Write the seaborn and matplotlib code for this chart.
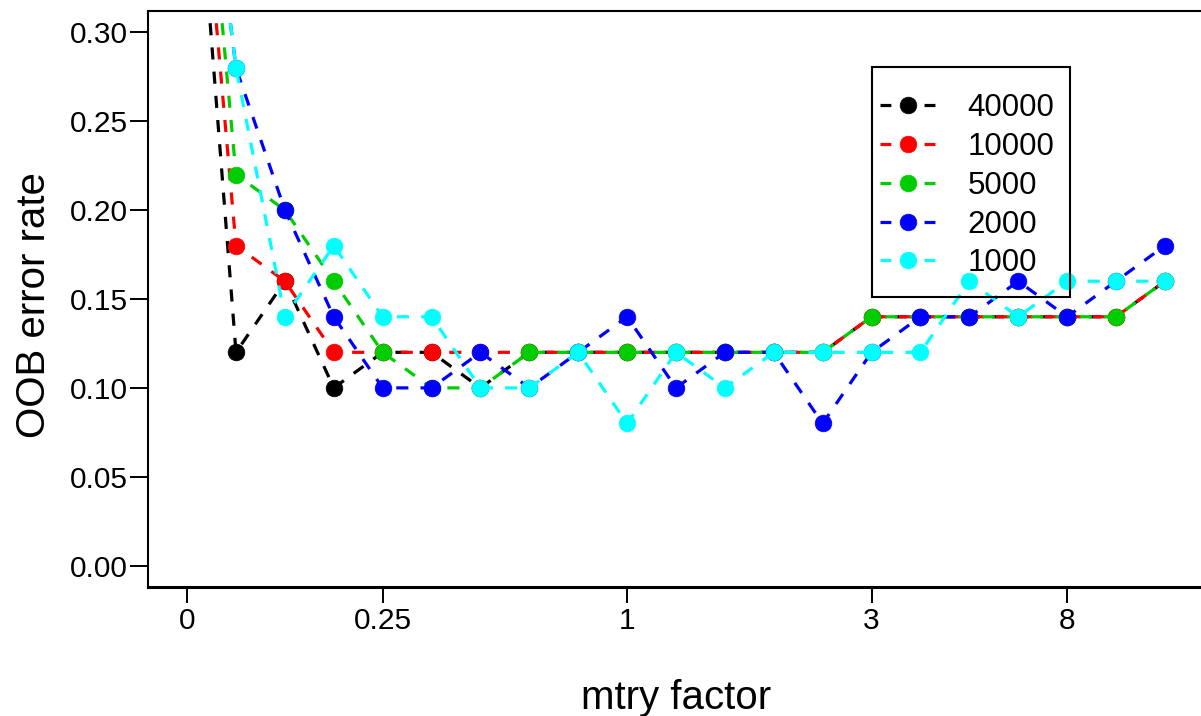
import pandas as pd
import matplotlib
matplotlib.use("Agg")
import matplotlib.pyplot as plt
from matplotlib.patches import Rectangle
import seaborn as sns

# OOB error rate per mtry step, one list per ntree setting
mtry_labels = ["0", "0.25", "1", "3", "8"]
mtry_label_pos = [0, 4, 9, 14, 18]
step = list(range(21))

ntree = ["40000", "10000", "5000", "2000", "1000"]
err_40000 = [0.47, 0.12, 0.16, 0.10, 0.12, 0.12, 0.10, 0.12, 0.12, 0.12, 0.12,
             0.12, 0.12, 0.12, 0.14, 0.14, 0.14, 0.14, 0.14, 0.14, 0.16]
err_10000 = [0.49, 0.18, 0.16, 0.12, 0.12, 0.12, 0.12, 0.12, 0.12, 0.12, 0.12,
             0.12, 0.12, 0.12, 0.14, 0.14, 0.14, 0.14, 0.14, 0.14, 0.16]
err_5000 = [0.52, 0.22, 0.20, 0.16, 0.12, 0.10, 0.10, 0.12, 0.12, 0.12, 0.12,
            0.12, 0.12, 0.12, 0.14, 0.14, 0.14, 0.14, 0.14, 0.14, 0.16]
err_2000 = [0.50, 0.28, 0.20, 0.14, 0.10, 0.10, 0.12, 0.10, 0.12, 0.14, 0.10,
            0.12, 0.12, 0.08, 0.12, 0.14, 0.14, 0.16, 0.14, 0.16, 0.18]
err_1000 = [0.50, 0.28, 0.14, 0.18, 0.14, 0.14, 0.10, 0.10, 0.12, 0.08, 0.12,
            0.10, 0.12, 0.12, 0.12, 0.12, 0.16, 0.14, 0.16, 0.16, 0.16]
colors = ["#000000", "#FF0000", "#00CD00", "#0000FF", "#00FFFF"]

series = [err_40000, err_10000, err_5000, err_2000, err_1000]

sns.set_style("white")
plt.rcParams["font.family"] = ["Liberation Sans", "DejaVu Sans"]
plt.rcParams.update({"text.color": "black", "axes.labelcolor": "black",
                     "xtick.color": "black", "ytick.color": "black"})

fig = plt.figure(figsize=(12.01, 7.16), dpi=100)
ax = fig.add_axes([148 / 1201, 129 / 716, 1056 / 1201, 576 / 716])

for name, vals, col in zip(ntree, series, colors):
    df = pd.DataFrame({"step": step, "err": vals})
    sns.lineplot(data=df, x="step", y="err", ax=ax, color=col, label=name,
                 linewidth=2.3, linestyle=(0, (3.8, 3.8)), marker="o",
                 markersize=12, markeredgecolor=col, markeredgewidth=0.5,
                 legend=False)

ax.set_xlim(-0.8, 20.8)
ax.set_ylim(-0.012, 0.312)
ax.set_xticks(mtry_label_pos)
ax.set_xticklabels(mtry_labels)
ax.set_yticks([0.0, 0.05, 0.10, 0.15, 0.20, 0.25, 0.30])
ax.set_yticklabels(["0.00", "0.05", "0.10", "0.15", "0.20", "0.25", "0.30"])
ax.tick_params(axis="both", labelsize=21.5, colors="black", direction="out",
               width=1.4, left=True, bottom=True)
ax.tick_params(axis="y", length=13, pad=1.5)
ax.tick_params(axis="x", length=11.5, pad=3)

for s in ax.spines.values():
    s.set_color("black")
    s.set_linewidth(1.5)
ax.spines["bottom"].set_linewidth(2.2)

ax.set_xlabel("mtry factor", fontsize=29)
ax.xaxis.set_label_coords(0.5, -0.16)
ax.set_ylabel("OOB error rate", fontsize=29)
ax.yaxis.label.set_va("center")
ax.yaxis.set_label_coords(-0.108, 0.49)

# legend entries without frame, box drawn separately (R style padding)
leg = ax.legend(loc="upper left", bbox_to_anchor=(0.6932, 0.857),
                fontsize=22.5, frameon=False, handlelength=1.8,
                handletextpad=1.0, borderpad=0, labelspacing=0.28,
                borderaxespad=0)
for ln in leg.get_lines():
    ln.set_linestyle((0, (3.4, 10.4, 3.4, 6)))
ax.add_patch(Rectangle((0.6856, 0.503), 0.1875, 0.3993, transform=ax.transAxes,
                       fill=False, edgecolor="black", linewidth=1.5, zorder=5))

plt.savefig("out.png", dpi=100)
